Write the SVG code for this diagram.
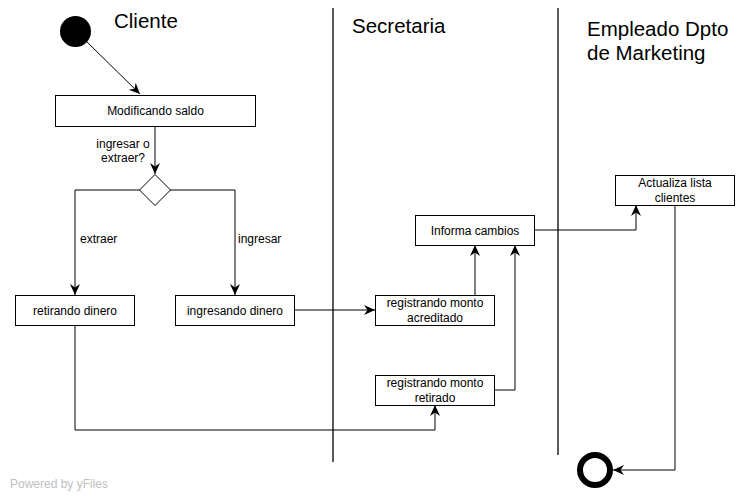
<svg xmlns="http://www.w3.org/2000/svg" width="750" height="500" viewBox="0 0 750 500">
<style>
.n{fill:#fff;stroke:#000;stroke-width:1}
.t{font-family:"Liberation Sans",Arial,sans-serif;font-size:12px;fill:#000;text-anchor:middle}
.l{font-family:"Liberation Sans",Arial,sans-serif;font-size:12px;fill:#000}
.h{font-family:"Liberation Sans",Arial,sans-serif;font-size:20.5px;fill:#000}
.e{fill:none;stroke:#000;stroke-width:1}
.lane{stroke:#000;stroke-width:1.3}
</style>
<defs>
<marker id="a" markerUnits="userSpaceOnUse" markerWidth="14" markerHeight="12" viewBox="-12 -6 14 12" refX="0" refY="0" orient="auto">
<path d="M0,0 L-11,-5 L-7.5,0 L-11,5 Z" fill="#000"/>
</marker>
</defs>
<rect width="750" height="500" fill="#fff"/>
<g id="lanes">
<line class="lane" x1="333" y1="8" x2="333" y2="462"/>
<line class="lane" x1="558" y1="8" x2="558" y2="455"/>
<text class="h" x="114" y="28">Cliente</text>
<text class="h" x="352" y="33">Secretaria</text>
<text class="h" x="587" y="36">Empleado Dpto</text>
<text class="h" x="587" y="60">de Marketing</text>
</g>
<g id="connectors">
<path class="e" d="M86,41 L140,94" marker-end="url(#a)"/>
<path class="e" d="M155,126 L155,174" marker-end="url(#a)"/>
<path class="e" d="M140,190 L75,190 L75,295" marker-end="url(#a)"/>
<path class="e" d="M170,190 L235,190 L235,295" marker-end="url(#a)"/>
<path class="e" d="M295,310 L375,310" marker-end="url(#a)"/>
<path class="e" d="M75,325 L75,430 L435,430 L435,405" marker-end="url(#a)"/>
<path class="e" d="M475,295 L475,245" marker-end="url(#a)"/>
<path class="e" d="M495,390 L515,390 L515,245" marker-end="url(#a)"/>
<path class="e" d="M534,230 L636,230 L636,205" marker-end="url(#a)"/>
<path class="e" d="M675,205 L675,470 L613,470" marker-end="url(#a)"/>
<text class="t" x="123" y="148">ingresar o</text>
<text class="t" x="123" y="162">extraer?</text>
<text class="l" x="80" y="243">extraer</text>
<text class="l" x="238" y="243">ingresar</text>
</g>
<g id="start"><circle cx="75.5" cy="31.5" r="15.5" fill="#000"/></g>
<g id="modificando"><rect class="n" x="55.5" y="95.5" width="200" height="31"/><text class="t" x="155.5" y="115">Modificando saldo</text></g>
<g id="decision"><path class="n" d="M155,174.5 L170.5,190 L155,205.5 L139.5,190 Z"/></g>
<g id="retirando"><rect class="n" x="15.5" y="295.5" width="119" height="30"/><text class="t" x="75" y="315">retirando dinero</text></g>
<g id="ingresando"><rect class="n" x="175.5" y="295.5" width="119" height="30"/><text class="t" x="235" y="315">ingresando dinero</text></g>
<g id="acreditado"><rect class="n" x="375.5" y="295.5" width="119" height="30"/><text class="t" x="435" y="307">registrando monto</text><text class="t" x="435" y="321.5">acreditado</text></g>
<g id="retirado"><rect class="n" x="375.5" y="375.5" width="119" height="30"/><text class="t" x="435" y="387">registrando monto</text><text class="t" x="435" y="401.5">retirado</text></g>
<g id="informa"><rect class="n" x="415.5" y="215.5" width="119" height="30"/><text class="t" x="475" y="235">Informa cambios</text></g>
<g id="actualiza"><rect class="n" x="615.5" y="175.5" width="119" height="30"/><text class="t" x="675" y="187">Actualiza lista</text><text class="t" x="675" y="201.5">clientes</text></g>
<g id="end"><circle cx="595" cy="470" r="15" fill="none" stroke="#000" stroke-width="6"/></g>
<text x="10" y="488" style="font-family:'Liberation Sans',Arial,sans-serif;font-size:12px;fill:#c0c0c0">Powered by yFiles</text>
</svg>
